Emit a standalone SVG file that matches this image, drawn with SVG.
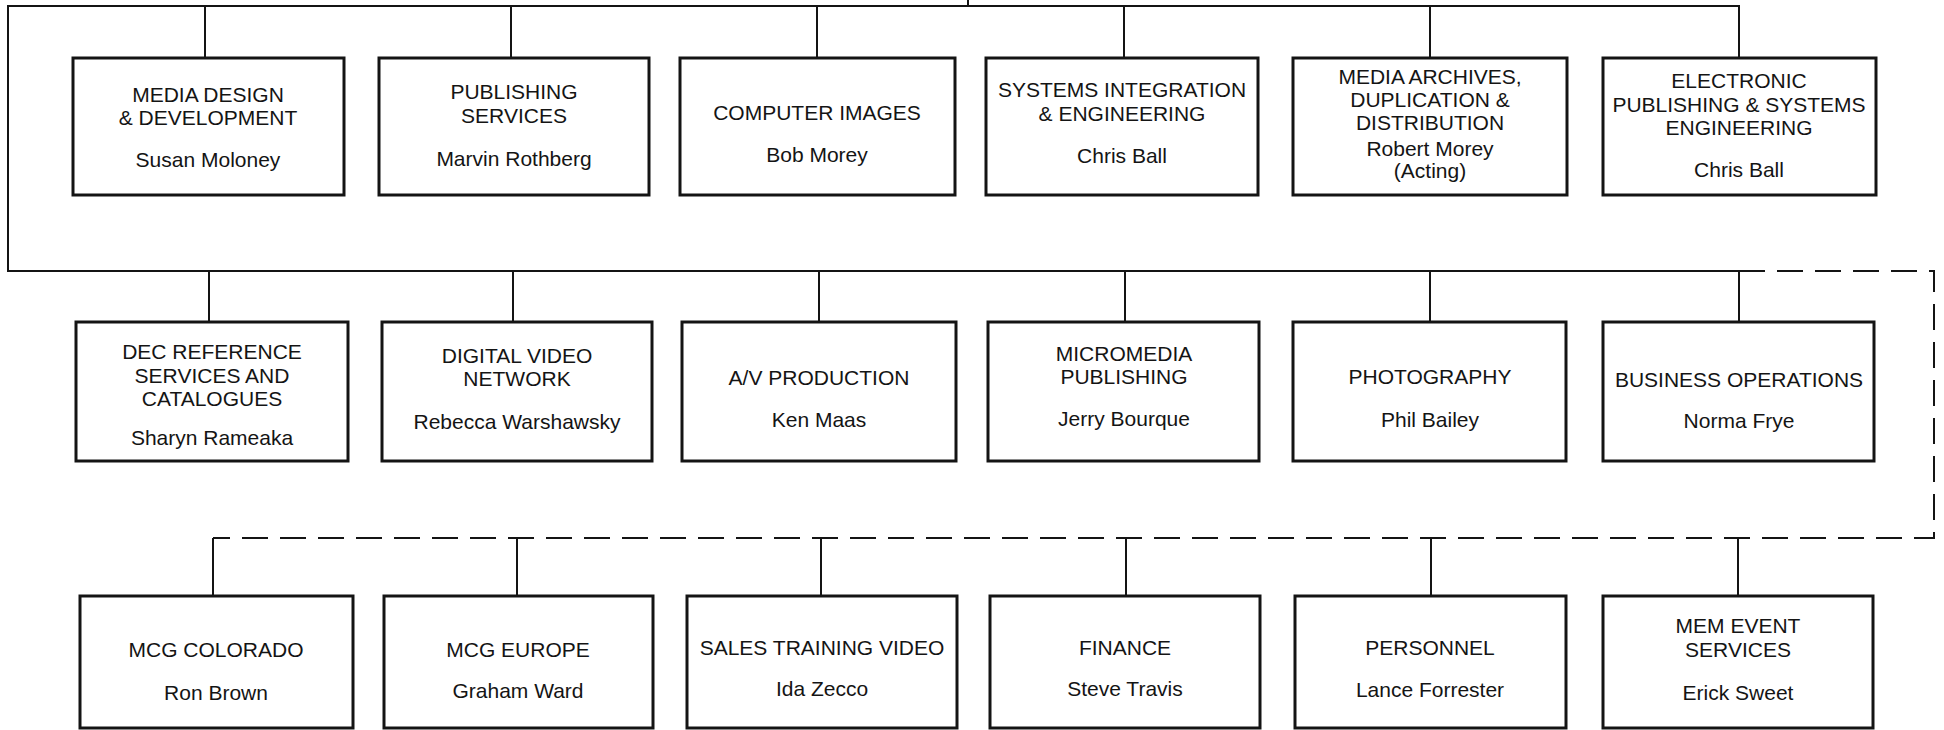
<svg xmlns="http://www.w3.org/2000/svg" width="1944" height="730" viewBox="0 0 1944 730">
  <style>
    .box { fill: #ffffff; stroke: #141414; stroke-width: 3; }
    .wire { fill: none; stroke: #141414; stroke-width: 2; }
    .dash { fill: none; stroke: #141414; stroke-width: 2; stroke-dasharray: 26 12; }
    text { font-family: "Liberation Sans", Arial, sans-serif; font-size: 21px; fill: #141414; text-anchor: middle; }
  </style>
  <rect x="0" y="0" width="1944" height="730" fill="#ffffff"/>

  <!-- connectors -->
  <g id="connectors">
    <path class="wire" d="M968,0 V6"/>
    <path class="wire" d="M1739,58 V6 H8 V271 H1739 V322"/>
    <path class="wire" d="M205,6 V58 M511,6 V58 M817,6 V58 M1124,6 V58 M1430,6 V58"/>
    <path class="wire" d="M209,271 V322 M513,271 V322 M819,271 V322 M1125,271 V322 M1430,271 V322"/>
    <path class="dash" d="M1739,271 H1934 V538 H213"/>
    <path class="wire" d="M213,538 V596 M517,538 V596 M821,538 V596 M1126,538 V596 M1431,538 V596 M1738,538 V596"/>
  </g>

  <!-- row 1 -->
  <g id="media-design">
    <rect class="box" x="73" y="58" width="271" height="137"/>
    <text x="208" y="102">MEDIA DESIGN</text>
    <text x="208" y="125">&amp; DEVELOPMENT</text>
    <text x="208" y="167">Susan Moloney</text>
  </g>
  <g id="publishing-services">
    <rect class="box" x="379" y="58" width="270" height="137"/>
    <text x="514" y="99">PUBLISHING</text>
    <text x="514" y="123">SERVICES</text>
    <text x="514" y="166">Marvin Rothberg</text>
  </g>
  <g id="computer-images">
    <rect class="box" x="680" y="58" width="275" height="137"/>
    <text x="817" y="120">COMPUTER IMAGES</text>
    <text x="817" y="162">Bob Morey</text>
  </g>
  <g id="systems-integration">
    <rect class="box" x="986" y="58" width="272" height="137"/>
    <text x="1122" y="97">SYSTEMS INTEGRATION</text>
    <text x="1122" y="121">&amp; ENGINEERING</text>
    <text x="1122" y="163">Chris Ball</text>
  </g>
  <g id="media-archives">
    <rect class="box" x="1293" y="58" width="274" height="137"/>
    <text x="1430" y="84">MEDIA ARCHIVES,</text>
    <text x="1430" y="107">DUPLICATION &amp;</text>
    <text x="1430" y="130">DISTRIBUTION</text>
    <text x="1430" y="156">Robert Morey</text>
    <text x="1430" y="178">(Acting)</text>
  </g>
  <g id="electronic-publishing">
    <rect class="box" x="1603" y="58" width="273" height="137"/>
    <text x="1739" y="88">ELECTRONIC</text>
    <text x="1739" y="112">PUBLISHING &amp; SYSTEMS</text>
    <text x="1739" y="135">ENGINEERING</text>
    <text x="1739" y="177">Chris Ball</text>
  </g>

  <!-- row 2 -->
  <g id="dec-reference">
    <rect class="box" x="76" y="322" width="272" height="139"/>
    <text x="212" y="359">DEC REFERENCE</text>
    <text x="212" y="383">SERVICES AND</text>
    <text x="212" y="406">CATALOGUES</text>
    <text x="212" y="445">Sharyn Rameaka</text>
  </g>
  <g id="digital-video">
    <rect class="box" x="382" y="322" width="270" height="139"/>
    <text x="517" y="363">DIGITAL VIDEO</text>
    <text x="517" y="386">NETWORK</text>
    <text x="517" y="429">Rebecca Warshawsky</text>
  </g>
  <g id="av-production">
    <rect class="box" x="682" y="322" width="274" height="139"/>
    <text x="819" y="385">A/V PRODUCTION</text>
    <text x="819" y="427">Ken Maas</text>
  </g>
  <g id="micromedia">
    <rect class="box" x="988" y="322" width="271" height="139"/>
    <text x="1124" y="361">MICROMEDIA</text>
    <text x="1124" y="384">PUBLISHING</text>
    <text x="1124" y="426">Jerry Bourque</text>
  </g>
  <g id="photography">
    <rect class="box" x="1293" y="322" width="273" height="139"/>
    <text x="1430" y="384">PHOTOGRAPHY</text>
    <text x="1430" y="427">Phil Bailey</text>
  </g>
  <g id="business-operations">
    <rect class="box" x="1603" y="322" width="271" height="139"/>
    <text x="1739" y="387">BUSINESS OPERATIONS</text>
    <text x="1739" y="428">Norma Frye</text>
  </g>

  <!-- row 3 -->
  <g id="mcg-colorado">
    <rect class="box" x="80" y="596" width="273" height="132"/>
    <text x="216" y="657">MCG COLORADO</text>
    <text x="216" y="700">Ron Brown</text>
  </g>
  <g id="mcg-europe">
    <rect class="box" x="384" y="596" width="269" height="132"/>
    <text x="518" y="657">MCG EUROPE</text>
    <text x="518" y="698">Graham Ward</text>
  </g>
  <g id="sales-training">
    <rect class="box" x="687" y="596" width="270" height="132"/>
    <text x="822" y="655">SALES TRAINING VIDEO</text>
    <text x="822" y="696">Ida Zecco</text>
  </g>
  <g id="finance">
    <rect class="box" x="990" y="596" width="270" height="132"/>
    <text x="1125" y="655">FINANCE</text>
    <text x="1125" y="696">Steve Travis</text>
  </g>
  <g id="personnel">
    <rect class="box" x="1295" y="596" width="271" height="132"/>
    <text x="1430" y="655">PERSONNEL</text>
    <text x="1430" y="697">Lance Forrester</text>
  </g>
  <g id="mem-event">
    <rect class="box" x="1603" y="596" width="270" height="132"/>
    <text x="1738" y="633">MEM EVENT</text>
    <text x="1738" y="657">SERVICES</text>
    <text x="1738" y="700">Erick Sweet</text>
  </g>
</svg>
